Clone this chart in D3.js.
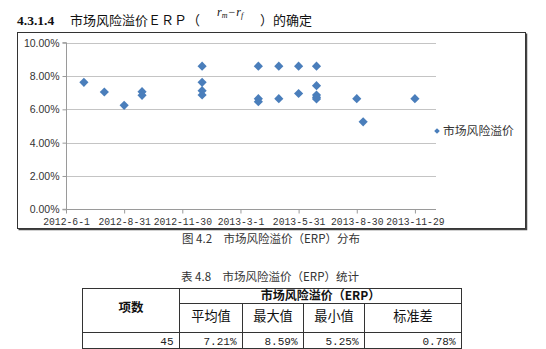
<!DOCTYPE html>
<html><head><meta charset="utf-8">
<script src="https://cdn.jsdelivr.net/npm/d3@7"></script>
<style>body{margin:0;background:#fff}svg{display:block}</style>
</head><body>
<svg id="c" width="546" height="349"></svg>
<script>
// Monthly observations of the market risk premium (ERP)
const pointDates = [
  "2012-06-29","2012-07-31","2012-08-31","2012-09-28","2012-09-28",
  "2012-12-31","2012-12-31","2012-12-31","2012-12-31",
  "2013-03-29","2013-03-29","2013-03-29",
  "2013-04-30","2013-04-30",
  "2013-05-31","2013-05-31",
  "2013-06-28","2013-06-28","2013-06-28","2013-06-28","2013-06-28",
  "2013-08-30","2013-09-09","2013-11-29"
];
const erpValues = [
  7.62, 7.04, 6.24, 7.06, 6.84,
  8.59, 7.62, 7.12, 6.86,
  8.59, 6.64, 6.46,
  8.59, 6.64,
  8.59, 6.95,
  8.59, 7.42, 6.86, 6.72, 6.62,
  6.64, 5.25, 6.64
];
const xTickDates = ["2012-06-01","2012-08-31","2012-11-30","2013-03-01","2013-05-31","2013-08-30","2013-11-29"];
const xDomain = ["2012-06-01","2014-01-01"];
const yTicks = [0, 2, 4, 6, 8, 10];
const seriesName = "市场风险溢价";

// Summary statistics table
const tableGroupHeader = "市场风险溢价（ERP）";
const tableRowHeader = "项数";
const statHeaders = ["平均值", "最大值", "最小值", "标准差"];
const statValues = ["7.21%", "8.59%", "5.25%", "0.78%"];
const itemCount = "45";

const svg = d3.select("#c");
const parse = d3.timeParse("%Y-%m-%d");
const cjk = "'Noto Sans CJK SC', sans-serif";
const mono = "'Liberation Mono', monospace";

// ---- heading ----
svg.append("text").attr("x", 17).attr("y", 25)
  .attr("font-family", "'Liberation Serif', serif").attr("font-weight", "bold")
  .attr("font-size", 13.5).attr("fill", "#111").text("4.3.1.4");
svg.append("text").attr("x", 70).attr("y", 25)
  .attr("font-family", cjk).attr("font-size", 13).attr("fill", "#111")
  .text("市场风险溢价ＥＲＰ（");
const f = svg.append("text").attr("x", 217).attr("y", 16)
  .attr("font-family", "'Liberation Serif', serif").attr("font-size", 12).attr("fill", "#111");
f.append("tspan").attr("font-style", "italic").text("r");
f.append("tspan").attr("font-style", "italic").attr("font-size", 8).attr("dy", 2).text("m");
f.append("tspan").attr("dy", -2).attr("dx", 1).text("−");
f.append("tspan").attr("font-style", "italic").attr("dx", 1).text("r");
f.append("tspan").attr("font-style", "italic").attr("font-size", 8).attr("dy", 2).text("f");
svg.append("text").attr("x", 260).attr("y", 25)
  .attr("font-family", cjk).attr("font-size", 13).attr("fill", "#111")
  .text("）的确定");

// ---- chart frame ----
svg.append("rect").attr("x", 17.5).attr("y", 32.5).attr("width", 508).attr("height", 196)
  .attr("fill", "#fff").attr("stroke", "#333").attr("stroke-width", 1);
svg.append("path").attr("d", "M526.5,33.5V229.5H18.5")
  .attr("fill", "none").attr("stroke", "#444").attr("stroke-width", 1.5);

// ---- scales ----
const x = d3.scaleTime().domain(xDomain.map(parse)).range([66, 436]);
const y = d3.scaleLinear().domain([0, 10]).range([209.3, 42.7]);

// gridlines
svg.append("g").selectAll("line").data(yTicks.filter(v => v > 0)).join("line")
  .attr("x1", 66).attr("x2", 436)
  .attr("y1", d => Math.round(y(d)) + 0.5).attr("y2", d => Math.round(y(d)) + 0.5)
  .attr("stroke", "#c4c4c4").attr("stroke-width", 1);

// y axis
const yAxis = d3.axisLeft(y).tickValues(yTicks).tickSize(4).tickPadding(3)
  .tickFormat(d => d.toFixed(2) + "%");
const gy = svg.append("g").attr("transform", "translate(66.5,0)").call(yAxis);
gy.select(".domain").attr("stroke", "#9a9a9a").attr("d", `M-4,${y(10)}H0V${y(0)}H-4`);
gy.selectAll(".tick line").attr("stroke", "#9a9a9a");
gy.selectAll("text").attr("font-family", "'Liberation Sans', Arial, sans-serif")
  .attr("font-size", 10.5).attr("fill", "#333");

// x axis
const xFmt = d3.timeFormat("%Y-%-m-%-d");
const xAxis = d3.axisBottom(x).tickValues(xTickDates.map(parse)).tickSize(4).tickPadding(4)
  .tickFormat(xFmt);
const gx = svg.append("g").attr("transform", `translate(0,${Math.round(y(0)) + 0.5})`).call(xAxis);
gx.select(".domain").attr("stroke", "#9a9a9a").attr("d", `M${x.range()[0]},0H${x.range()[1]}`);
gx.selectAll(".tick line").attr("stroke", "#9a9a9a");
gx.selectAll("text").attr("font-family", mono)
  .attr("font-size", 11.2).attr("fill", "#333")
  .attr("textLength", d => xFmt(d).length * 5.83).attr("lengthAdjust", "spacingAndGlyphs");

// markers
const diamond = d3.symbol().type(d3.symbolSquare).size(42);
const pts = pointDates.map((d, i) => ({ date: parse(d), v: erpValues[i] }));
svg.append("g").selectAll("path").data(pts).join("path")
  .attr("d", diamond)
  .attr("transform", d => `translate(${x(d.date)},${y(d.v)}) rotate(45)`)
  .attr("fill", "#4a7ebb");

// legend
svg.append("path").attr("d", d3.symbol().type(d3.symbolSquare).size(16))
  .attr("transform", "translate(437,131) rotate(45)").attr("fill", "#4a7ebb");
svg.append("text").attr("x", 443).attr("y", 131).attr("dy", "0.35em")
  .attr("font-family", cjk).attr("font-size", 11.8).attr("fill", "#333").text(seriesName);

// figure caption
svg.append("text").attr("x", 271).attr("y", 239).attr("dy", "0.36em").attr("text-anchor", "middle")
  .attr("font-family", cjk).attr("font-size", 11.5).attr("fill", "#333")
  .text("图 4.2　市场风险溢价（ERP）分布");

// ---- table ----
svg.append("text").attr("x", 270).attr("y", 277).attr("dy", "0.36em").attr("text-anchor", "middle")
  .attr("font-family", cjk).attr("font-size", 11.5).attr("fill", "#333")
  .text("表 4.8　市场风险溢价（ERP）统计");

const colX = [82.5, 179.5, 242.5, 303.5, 364.5, 461.5];
const rowY = [288.5, 303.5, 332.5, 348.5];
const tg = svg.append("g").attr("stroke", "#333").attr("stroke-width", 1);
tg.append("rect").attr("x", colX[0]).attr("y", rowY[0])
  .attr("width", colX[5] - colX[0]).attr("height", rowY[3] - rowY[0]).attr("fill", "none");
tg.append("line").attr("x1", colX[1]).attr("x2", colX[5]).attr("y1", rowY[1]).attr("y2", rowY[1]);
tg.append("line").attr("x1", colX[0]).attr("x2", colX[5]).attr("y1", rowY[2]).attr("y2", rowY[2]);
tg.append("line").attr("x1", colX[1]).attr("x2", colX[1]).attr("y1", rowY[0]).attr("y2", rowY[3]);
[2, 3, 4].forEach(i => tg.append("line").attr("x1", colX[i]).attr("x2", colX[i])
  .attr("y1", rowY[1]).attr("y2", rowY[3]));

svg.append("text").attr("x", (colX[0] + colX[1]) / 2).attr("y", 307).attr("dy", "0.36em")
  .attr("text-anchor", "middle").attr("font-family", cjk).attr("font-weight", "bold")
  .attr("font-size", 12.5).attr("fill", "#111").text(tableRowHeader);
svg.append("text").attr("x", (colX[1] + colX[5]) / 2).attr("y", 295.5).attr("dy", "0.36em")
  .attr("text-anchor", "middle").attr("font-family", cjk).attr("font-weight", "bold")
  .attr("font-size", 12).attr("fill", "#111").text(tableGroupHeader);
svg.append("g").selectAll("text").data(statHeaders).join("text")
  .attr("x", (d, i) => (colX[i + 1] + colX[i + 2]) / 2).attr("y", 316).attr("dy", "0.36em")
  .attr("text-anchor", "middle").attr("font-family", cjk).attr("font-size", 13.2)
  .attr("fill", "#111").text(d => d);
const valueCells = [itemCount].concat(statValues);
svg.append("g").selectAll("text").data(valueCells).join("text")
  .attr("x", (d, i) => colX[i + 1] - 6).attr("y", 341.5).attr("dy", "0.36em")
  .attr("text-anchor", "end").attr("font-family", mono)
  .attr("font-size", 11).attr("fill", "#222").text(d => d);
</script>
</body></html>
